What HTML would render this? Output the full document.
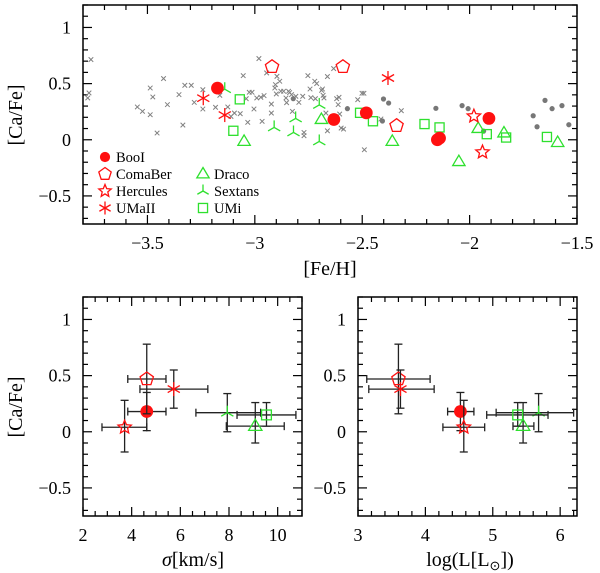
<!DOCTYPE html>
<html><head><meta charset="utf-8"><style>
html,body{margin:0;padding:0;background:#fff;}
svg{display:block;font-family:"Liberation Serif",serif;}
</style></head><body>
<svg id="fig" width="600" height="573" viewBox="0 0 600 573" xmlns="http://www.w3.org/2000/svg"></svg>
<script>
// ---- top panel data ----
const grayCrossFe=[-3.763,-3.772,-3.778,-3.547,-3.523,-3.487,-3.487,-3.475,-3.455,-3.425,-3.407,-3.353,-3.335,-3.326,-3.296,-3.282,-3.242,-3.242,-3.183,-3.163,-3.126,-3.111,-3.095,-3.068,-3.054,-3.040,-3.033,-3.026,-3.013,-3.004,-2.991,-2.981,-2.972,-2.966,-2.957,-2.945,-2.923,-2.923,-2.907,-2.904,-2.900,-2.897,-2.884,-2.879,-2.866,-2.855,-2.852,-2.843,-2.838,-2.829,-2.825,-2.809,-2.795,-2.777,-2.771,-2.771,-2.753,-2.743,-2.739,-2.721,-2.718,-2.712,-2.689,-2.685,-2.682,-2.678,-2.669,-2.662,-2.662,-2.633,-2.619,-2.612,-2.608,-2.605,-2.598,-2.587,-2.521,-2.501,-2.492,-2.490,-2.413,-2.318];
const grayCrossCa=[0.714,0.417,0.372,0.292,0.253,0.461,0.223,0.381,0.060,0.545,0.313,0.402,0.131,0.485,0.485,0.333,0.446,0.274,0.289,0.396,0.292,0.208,0.238,0.232,0.571,0.366,0.155,0.423,0.423,0.274,0.372,0.723,0.378,0.164,0.393,0.595,0.318,0.238,0.461,0.491,0.408,0.565,0.521,0.432,0.432,0.372,0.330,0.432,0.420,0.402,0.253,0.387,0.333,0.387,0.065,0.036,0.571,0.452,0.375,0.521,0.366,0.500,0.440,0.452,0.396,0.372,0.238,0.563,0.080,0.634,0.366,0.313,0.378,0.229,0.104,0.095,0.357,0.414,0.414,-0.089,0.185,0.259];
const grayDotFe=[-2.821,-2.569,-2.401,-2.377,-2.406,-2.157,-2.035,-2.007,-1.935,-1.894,-1.704,-1.686,-1.649,-1.616,-1.570,-1.538];
const grayDotCa=[0.366,0.277,0.363,0.327,0.167,0.280,0.304,0.277,0.077,0.196,0.214,0.116,0.351,0.277,0.304,0.134];
const booFe=[-3.174,-2.632,-2.481,-2.15,-2.14,-1.91];
const booCa=[0.46,0.18,0.24,0.0,0.015,0.19];
const comaFe=[-2.92,-2.59,-2.34];
const comaCa=[0.65,0.65,0.125];
const herFe=[-1.98,-1.94];
const herCa=[0.21,-0.11];
const umaFe=[-3.24,-3.14,-2.38];
const umaCa=[0.37,0.22,0.55];
const draFe=[-3.05,-2.69,-2.36,-2.05,-1.96,-1.84,-1.59];
const draCa=[-0.015,0.18,-0.015,-0.195,0.10,0.06,-0.025];
const sexFe=[-3.14,-2.81,-2.91,-2.82,-2.70,-2.70];
const sexCa=[0.45,0.19,0.11,0.065,0.31,-0.015];
const umiFe=[-3.07,-3.10,-2.51,-2.45,-2.21,-2.14,-1.92,-1.83,-1.64];
const umiCa=[0.36,0.08,0.24,0.165,0.14,0.11,0.05,0.02,0.025];
// ---- bottom panels data (order: Boo, ComaBer, UMaII, Hercules, Sextans, Draco, UMi) ----
const galNames=["booI","comaber","umaii","hercules","sextans","draco","umi"];
const galCa=[0.18,0.47,0.38,0.04,0.17,0.05,0.15];
const galCaLo=[0.01,0.16,0.21,-0.18,0.0,-0.10,0.05];
const galCaHi=[0.35,0.78,0.55,0.28,0.34,0.26,0.26];
const galSig=[4.62,4.62,5.73,3.71,7.93,9.08,9.54];
const galSigLo=[3.84,3.84,4.34,2.78,6.64,7.89,8.33];
const galSigHi=[5.41,5.41,7.13,4.62,9.30,10.27,10.75];
const galL=[4.52,3.60,3.63,4.57,5.68,5.45,5.37];
const galLLo=[4.33,3.13,3.16,4.26,5.05,5.30,4.91];
const galLHi=[4.72,4.07,4.13,4.88,6.20,5.61,5.82];
const galMarker=["circle","pentagon","asterisk","star","sextans","triangle","square"];
const galColor=["red","red","red","red","green","green","green"];

const NS="http://www.w3.org/2000/svg";
const svg=document.getElementById('fig');
const RED="#ff1010", GREEN="#2ee02e", GRAY="#808080";
function mk(tag,attrs,parent){const e=document.createElementNS(NS,tag);for(const k in attrs)e.setAttribute(k,attrs[k]);(parent||svg).appendChild(e);return e;}

function axes(name,x0,x1,y0,y1,xmin,xmax,ymin,ymax,xMaj,xMin,yMaj,yMin,xfmt,yfmt){
  const g=mk('g',{});
  
  
  const sx=v=>x0+(v-xmin)/(xmax-xmin)*(x1-x0);
  const sy=v=>y1-(v-ymin)/(ymax-ymin)*(y1-y0);
  mk('rect',{x:x0,y:y0,width:x1-x0,height:y1-y0,fill:'none',stroke:'#000','stroke-width':1.5},g);
  const eps=1e-6;
  for(let v=Math.ceil(xmin/xMin-eps)*xMin;v<=xmax+eps;v+=xMin){
    const maj=Math.abs(v/xMaj-Math.round(v/xMaj))<1e-4; const L=maj?9:5; const X=sx(v);
    mk('line',{x1:X,x2:X,y1:y1,y2:y1-L,stroke:'#000','stroke-width':1.2},g);
    mk('line',{x1:X,x2:X,y1:y0,y2:y0+L,stroke:'#000','stroke-width':1.2},g);
    if(maj){const t=mk('text',{x:X,y:y1+25,'text-anchor':'middle','font-size':18},g);t.textContent=xfmt(Math.round(v/xMaj)*xMaj);
      
      }
  }
  for(let v=Math.ceil(ymin/yMin-eps)*yMin;v<=ymax+eps;v+=yMin){
    const maj=Math.abs(v/yMaj-Math.round(v/yMaj))<1e-4; const L=maj?9:5; const Y=sy(v);
    mk('line',{x1:x0,x2:x0+L,y1:Y,y2:Y,stroke:'#000','stroke-width':1.2},g);
    mk('line',{x1:x1,x2:x1-L,y1:Y,y2:Y,stroke:'#000','stroke-width':1.2},g);
    if(maj){const t=mk('text',{x:x0-12,y:Y+6,'text-anchor':'end','font-size':18},g);t.textContent=yfmt(Math.round(v/yMaj)*yMaj);
      
      }
  }
  return {sx,sy};
}
const fmt=v=>{let s=(Math.abs(v)<1e-9?0:v).toString();return s.replace('-','\u2212');};

function marker(type,x,y,color,s,parent){
  const p=parent||svg; const st={fill:'none',stroke:color,'stroke-width':1.3};
  if(type==='circle'){mk('circle',{cx:x,cy:y,r:s*0.85,fill:color},p);}
  else if(type==='pentagon'||type==='star'){
    const n=type==='pentagon'?5:10; let pts=[];
    for(let i=0;i<n;i++){const a=-Math.PI/2+i*2*Math.PI/n; const r=(type==='star'&&i%2)?s*0.45:s; pts.push((x+r*Math.cos(a)).toFixed(1)+','+(y+r*Math.sin(a)).toFixed(1));}
    mk('polygon',Object.assign({points:pts.join(' ')},st),p);
  } else if(type==='asterisk'){
    for(let i=0;i<3;i++){const a=Math.PI/2+i*Math.PI/3;mk('line',Object.assign({x1:x+s*Math.cos(a),y1:y+s*Math.sin(a),x2:x-s*Math.cos(a),y2:y-s*Math.sin(a)},st),p);}
  } else if(type==='triangle'){
    mk('polygon',Object.assign({points:`${x},${y-s} ${x+s*0.95},${y+s*0.6} ${x-s*0.95},${y+s*0.6}`},st),p);
  } else if(type==='square'){
    const h=s*0.7; mk('rect',Object.assign({x:x-h,y:y-h,width:2*h,height:2*h},st),p);
  } else if(type==='sextans'){
    mk('line',Object.assign({x1:x,y1:y,x2:x,y2:y-s},st),p);
    mk('line',Object.assign({x1:x,y1:y,x2:x-s*0.87,y2:y+s*0.5},st),p);
    mk('line',Object.assign({x1:x,y1:y,x2:x+s*0.87,y2:y+s*0.5},st),p);
  } else if(type==='cross'){
    mk('line',{x1:x-2.3,y1:y-2.3,x2:x+2.3,y2:y+2.3,stroke:GRAY,'stroke-width':1},p);
    mk('line',{x1:x-2.3,y1:y+2.3,x2:x+2.3,y2:y-2.3,stroke:GRAY,'stroke-width':1},p);
  } else if(type==='dot'){mk('circle',{cx:x,cy:y,r:2.6,fill:'#777'},p);}
}

// ---- top panel ----
const A=axes('top-panel-axes',83,577,5,224,-3.8,-1.5,-0.75,1.2,0.5,0.1,0.5,0.1,fmt,fmt);
function series(name,fe,ca,type,color,s){
  const g=mk('g',{});
  
  
  for(let i=0;i<fe.length;i++)marker(type,A.sx(fe[i]),A.sy(ca[i]),color,s,g);
}
series('mw-halo-stars-crosses',grayCrossFe,grayCrossCa,'cross',GRAY,3);
series('mw-halo-stars-dots',grayDotFe,grayDotCa,'dot',GRAY,3);
series('series-umi',umiFe,umiCa,'square',GREEN,6.5);
series('series-sextans',sexFe,sexCa,'sextans',GREEN,7);
series('series-draco',draFe,draCa,'triangle',GREEN,6.5);
series('series-umaii',umaFe,umaCa,'asterisk',RED,7);
series('series-hercules',herFe,herCa,'star',RED,7);
series('series-comaber',comaFe,comaCa,'pentagon',RED,7);
series('series-booI',booFe,booCa,'circle',RED,7.5);

// legend
const lg=mk('g',{});


const legItems=[["BooI","circle",RED,105,157],["ComaBer","pentagon",RED,105,174],["Hercules","star",RED,105,191],["UMaII","asterisk",RED,105,208],["Draco","triangle",GREEN,203,174],["Sextans","sextans",GREEN,203,191],["UMi","square",GREEN,203,208]];
legItems.forEach(it=>{
  const e=mk('g',{},lg);
  
  
  marker(it[1],it[3],it[4],it[2],it[1]==='circle'?6:6.5,e);
  const t=mk('text',{x:it[3]+11,y:it[4]+5,'font-size':14.5},e);t.textContent=it[0];
});
let t=mk('text',{x:330,y:275,'text-anchor':'middle','font-size':20});t.textContent='[Fe/H]';


t=mk('text',{x:0,y:0,'text-anchor':'middle','font-size':20,transform:'translate(22,115) rotate(-90)'});t.textContent='[Ca/Fe]';



// ---- bottom panels ----
function bottom(name,x0,x1,xmin,xmax,xMaj,xMin,xv,xlo,xhi){
  const B=axes(name+'-axes',x0,x1,297,516,xmin,xmax,-0.75,1.2,xMaj,xMin,0.5,0.1,fmt,fmt);
  const g=mk('g',{});
  
  
  for(let i=0;i<xv.length;i++){
    const e=mk('g',{},g);
    
    
    const X=B.sx(xv[i]),Y=B.sy(galCa[i]);
    const xl=B.sx(xlo[i]),xh=Math.min(B.sx(xhi[i]),x1),yl=B.sy(galCaLo[i]),yh=B.sy(galCaHi[i]);
    const es={stroke:'#222','stroke-width':1.3};
    mk('line',Object.assign({x1:xl,x2:xh,y1:Y,y2:Y},es),e);
    mk('line',Object.assign({x1:xl,x2:xl,y1:Y-4,y2:Y+4},es),e);
    mk('line',Object.assign({x1:xh,x2:xh,y1:Y-4,y2:Y+4},es),e);
    mk('line',Object.assign({x1:X,x2:X,y1:yl,y2:yh},es),e);
    mk('line',Object.assign({x1:X-4,x2:X+4,y1:yl,y2:yl},es),e);
    mk('line',Object.assign({x1:X-4,x2:X+4,y1:yh,y2:yh},es),e);
    marker(galMarker[i],X,Y,galColor[i]==='red'?RED:GREEN,galMarker[i]==='circle'?7.5:7,e);
  }
}
bottom('sigma-panel',83,302,2,11,2,0.5,galSig,galSigLo,galSigHi);
bottom('luminosity-panel',358,577,3,6.25,1,0.2,galL,galLLo,galLHi);
t=mk('text',{x:0,y:0,'text-anchor':'middle','font-size':20,transform:'translate(22,407) rotate(-90)'});t.textContent='[Ca/Fe]';


t=mk('text',{x:193,y:566,'text-anchor':'middle','font-size':20});t.innerHTML='<tspan font-style="italic">σ</tspan>[km/s]';


t=mk('text',{x:470,y:566,'text-anchor':'middle','font-size':20});t.innerHTML='log(L[L<tspan font-size="13" dy="4">⊙</tspan><tspan dy="-4">])</tspan>';


</script>
</body></html>
